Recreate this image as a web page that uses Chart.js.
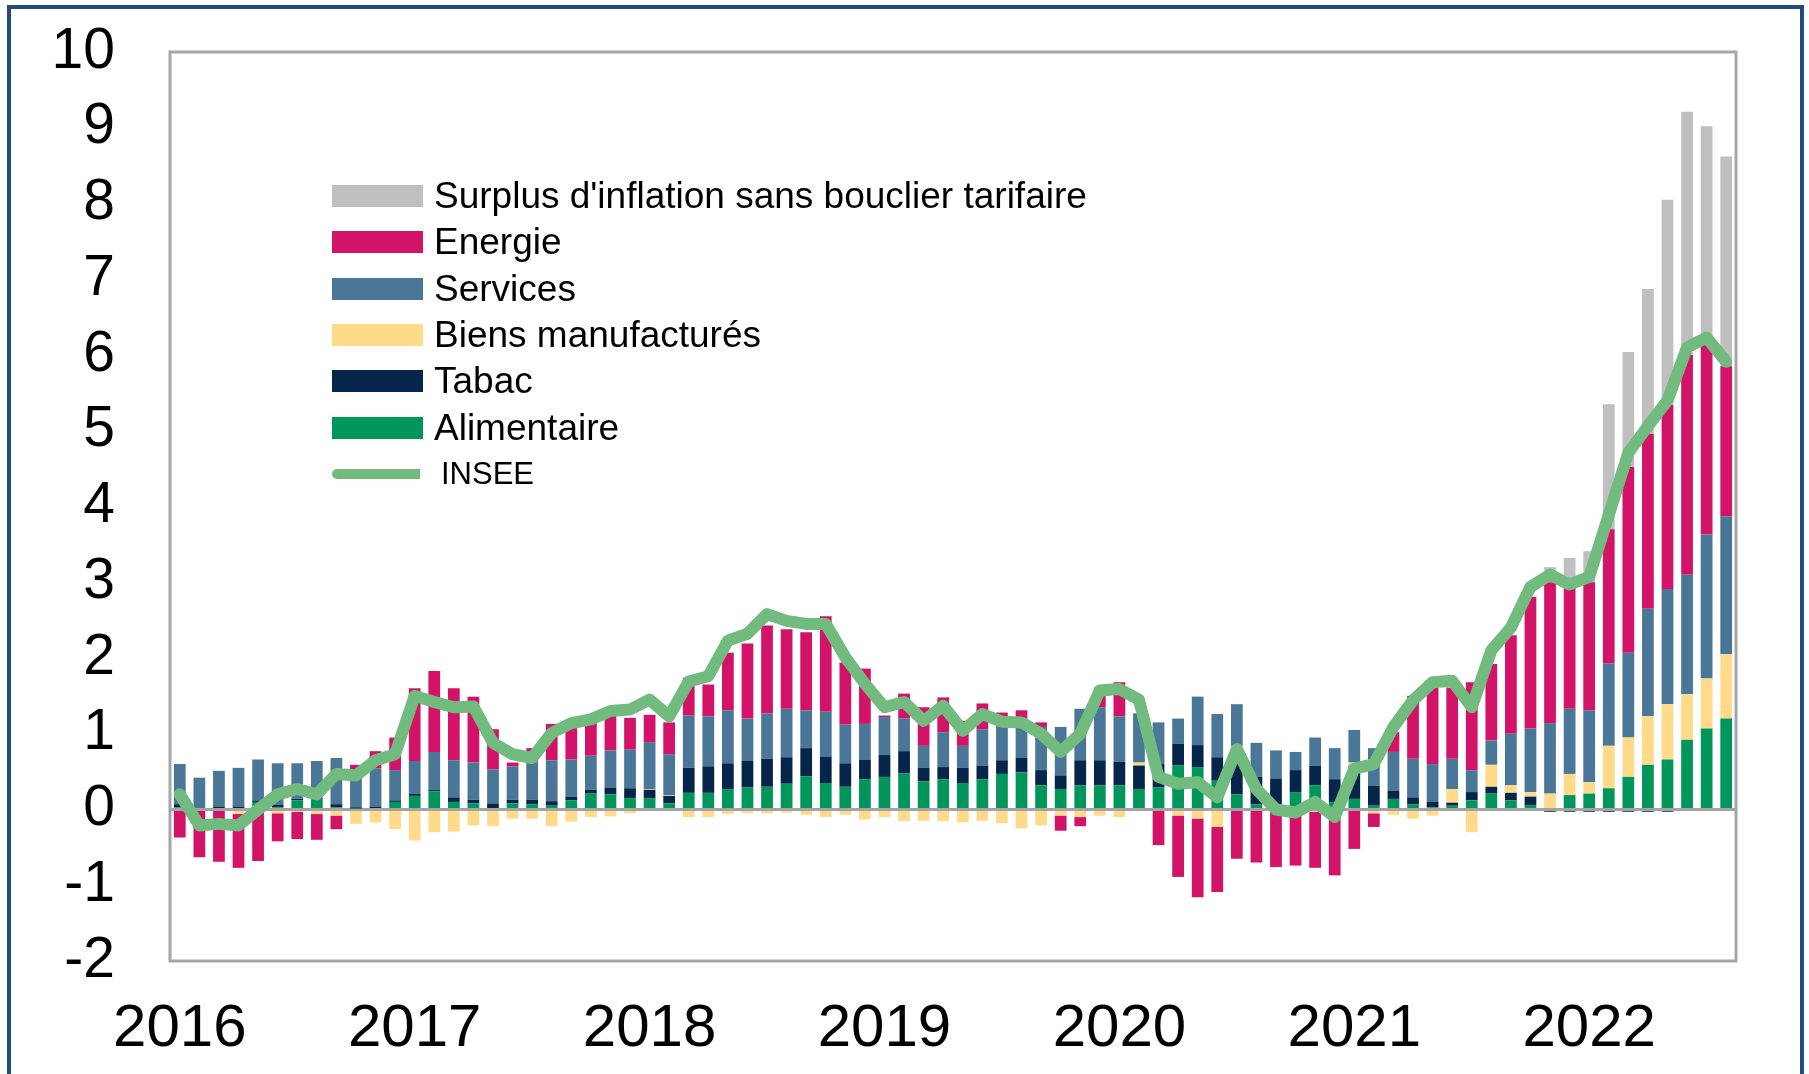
<!DOCTYPE html>
<html lang="fr">
<head>
<meta charset="utf-8">
<title>Contributions à l'inflation</title>
<script src="https://cdn.jsdelivr.net/npm/chart.js@4.4.0/dist/chart.umd.min.js"></script>
<style>
  html, body { margin: 0; padding: 0; background: #fff; }
  body { width: 1809px; height: 1074px; position: relative; overflow: hidden; font-family: 'Liberation Sans', Arial, sans-serif; }
  .cadre { position: absolute; left: 7px; top: 5px; width: 1789px; height: 1100px; border: 4px solid #234b7c; }
  #graph { position: absolute; left: 0; top: 0; }
  .legende { position: absolute; left: 332px; top: 173px; }
  .ligne { display: flex; align-items: center; height: 46.3px; }
  .carre { width: 91px; height: 22px; margin-right: 11px; }
  .trait { width: 88px; height: 10px; border-radius: 5px 0 0 5px; margin-right: 21px; background: #72bb7f; }
  .texte { font-size: 37px; color: #000; white-space: nowrap; }
  .petit { font-size: 31px; }
</style>
</head>
<body>
<div class="cadre"></div>
<canvas id="graph" width="1809" height="1074"></canvas>
<div class="legende" id="legende"></div>

<script>
// Axe des années (un label par mois, janvier 2016 -> août 2022)
const annees = ['2016', '2017', '2018', '2019', '2020', '2021', '2022'];
const nbMois = 80;

// Contributions mensuelles (points de %)
const alimentaire = [
  0.03, 0, 0, 0, 0.1, 0.03, 0.12, 0.13, 0.03, 0.01, 0.02, 0.1,
  0.18, 0.24, 0.1, 0.08, 0.02, 0.08, 0.07, 0.05, 0.12, 0.21, 0.2, 0.15,
  0.15, 0.08, 0.22, 0.22, 0.27, 0.29, 0.3, 0.34, 0.44, 0.35, 0.3, 0.4,
  0.43, 0.48, 0.37, 0.4, 0.35, 0.4, 0.47, 0.49, 0.32, 0.27, 0.32, 0.32,
  0.32, 0.27, 0.29, 0.58, 0.56, 0.38, 0.2, 0.07, 0.03, 0.23, 0.32, 0.1,
  0.14, 0.05, 0.14, 0.07, 0.03, 0.05, 0.12, 0.21, 0.12, 0.06, 0.02, 0.19,
  0.21, 0.28, 0.43, 0.59, 0.66, 0.92, 1.07, 1.2
];
const tabac = [
  0.04, 0.02, 0.04, 0.04, 0.02, 0.03, 0.02, 0.02, 0.04, 0.02, 0.02, 0.02,
  0.03, 0.02, 0.06, 0.05, 0.06, 0.05, 0.06, 0.06, 0.05, 0.05, 0.09, 0.13,
  0.11, 0.1, 0.33, 0.35, 0.34, 0.35, 0.37, 0.35, 0.37, 0.35, 0.31, 0.26,
  0.29, 0.29, 0.18, 0.16, 0.2, 0.18, 0.18, 0.19, 0.2, 0.18, 0.33, 0.33,
  0.31, 0.31, 0.31, 0.29, 0.29, 0.31, 0.55, 0.36, 0.38, 0.29, 0.26, 0.3,
  0.44, 0.26, 0.11, 0.09, 0.07, 0.04, 0.11, 0.09, 0.1, 0.11, -0.03, -0.03,
  -0.03, -0.03, -0.03, -0.03, -0.03, 0, 0, 0
];
const biensManufactures = [
  0, 0, 0, -0.06, 0, -0.05, -0.03, -0.06, -0.08, -0.19, -0.17, -0.26,
  -0.41, -0.3, -0.29, -0.21, -0.22, -0.12, -0.12, -0.22, -0.16, -0.1, -0.09, -0.05,
  0.01, 0.01, -0.1, -0.1, -0.06, -0.05, -0.05, -0.04, -0.07, -0.1, -0.07, -0.13,
  -0.1, -0.15, -0.15, -0.15, -0.17, -0.15, -0.18, -0.25, -0.21, -0.08, -0.1, -0.08,
  -0.1, 0.04, 0, -0.08, -0.12, -0.23, 0.09, 0, 0, 0, -0.03, -0.05,
  0.04, -0.05, -0.07, -0.12, -0.08, 0.18, -0.3, 0.29, 0.1, 0.06, 0.19, 0.28,
  0.15, 0.56, 0.52, 0.64, 0.73, 0.6, 0.66, 0.85
];
const services = [
  0.53, 0.4, 0.47, 0.51, 0.54, 0.55, 0.47, 0.49, 0.61, 0.5, 0.5, 0.4,
  0.43, 0.5, 0.49, 0.49, 0.45, 0.44, 0.49, 0.54, 0.49, 0.45, 0.49, 0.51,
  0.62, 0.54, 0.69, 0.66, 0.7, 0.56, 0.6, 0.64, 0.5, 0.59, 0.51, 0.47,
  0.5, 0.43, 0.29, 0.46, 0.29, 0.48, 0.45, 0.52, 0.57, 0.64, 0.68, 0.7,
  0.6, 0.65, 0.55, 0.33, 0.64, 0.57, 0.55, 0.45, 0.37, 0.24, 0.37, 0.41,
  0.43, 0.5, 0.51, 0.51, 0.5, 0.4, 0.29, 0.32, 0.68, 0.84, 0.93, 0.86,
  0.95, 1.09, 1.12, 1.42, 1.52, 1.58, 1.9, 1.82
];
const energie = [
  -0.37, -0.63, -0.69, -0.71, -0.68, -0.37, -0.36, -0.34, -0.18, 0.06, 0.23, 0.43,
  0.96, 1.07, 0.95, 0.87, 0.53, 0.05, 0.19, 0.48, 0.51, 0.49, 0.54, 0.42,
  0.36, 0.42, 0.5, 0.42, 0.76, 0.99, 1.16, 1.05, 1.03, 1.26, 0.82, 0.73,
  0.02, 0.33, 0.51, 0.46, 0.33, 0.34, 0.18, 0.11, 0.06, -0.2, -0.12, 0.26,
  0.45, 0, -0.47, -0.81, -1.04, -0.86, -0.65, -0.7, -0.76, -0.74, -0.74, -0.82,
  -0.52, -0.18, 0.26, 0.83, 1.1, 0.94, 1.16, 1.01, 1.3, 1.74, 1.86, 1.61,
  1.69, 1.77, 2.45, 2.31, 2.43, 2.9, 2.53, 1.98
];
const surplus = [
  0, 0, 0, 0, 0, 0, 0, 0, 0, 0, 0, 0,
  0, 0, 0, 0, 0, 0, 0, 0, 0, 0, 0, 0,
  0, 0, 0, 0, 0, 0, 0, 0, 0, 0, 0, 0,
  0, 0, 0, 0, 0, 0, 0, 0, 0, 0, 0, 0,
  0, 0, 0, 0, 0, 0, 0, 0, 0, 0, 0, 0,
  0, 0, 0, 0, 0, 0, 0, 0, 0, 0, 0.2, 0.38,
  0.41, 1.65, 1.52, 1.91, 2.71, 3.21, 2.86, 2.77
];
const insee = [
  0.2, -0.21, -0.19, -0.21, 0, 0.2, 0.27, 0.2, 0.47, 0.45, 0.65, 0.73,
  1.5, 1.42, 1.35, 1.36, 0.88, 0.73, 0.68, 1.01, 1.14, 1.19, 1.3, 1.32,
  1.45, 1.23, 1.69, 1.76, 2.23, 2.32, 2.58, 2.49, 2.45, 2.45, 2.01, 1.66,
  1.35, 1.42, 1.17, 1.37, 1.04, 1.26, 1.16, 1.15, 1.0, 0.76, 1.0, 1.57,
  1.59, 1.45, 0.43, 0.34, 0.36, 0.16, 0.8, 0.27, 0, -0.04, 0.1, -0.1,
  0.54, 0.6, 1.09, 1.44, 1.68, 1.7, 1.35, 2.1, 2.4, 2.94, 3.1, 2.97,
  3.07, 3.89, 4.71, 5.06, 5.4, 6.1, 6.23, 5.91
];

const couleurs = {
  surplus: '#bfbfbf',
  energie: '#d31367',
  services: '#4a7698',
  biens: '#ffda88',
  tabac: '#05264a',
  alimentaire: '#00955a',
  insee: '#72bb7f'
};

// Labels mensuels construits à partir des années
const mois = [];
annees.forEach(a => {
  for (let m = 1; m <= 12; m++) mois.push(a + '-' + String(m).padStart(2, '0'));
});
mois.length = nbMois;

Chart.defaults.font.family = "'Liberation Sans', Arial, sans-serif";

// Cadre gris autour de la zone de tracé
const cadrePlugin = {
  id: 'cadre',
  afterDraw(chart) {
    const { ctx, chartArea: a } = chart;
    ctx.save();
    ctx.strokeStyle = '#a6a6a6';
    ctx.lineWidth = 3;
    ctx.strokeRect(a.left, a.top, a.right - a.left, a.bottom - a.top);
    ctx.restore();
  }
};

const barre = (label, data, color) => ({
  label, data, backgroundColor: color, borderWidth: 0, order: 1,
  barPercentage: 0.6, categoryPercentage: 1
});

new Chart(document.getElementById('graph'), {
  type: 'bar',
  data: {
    labels: mois,
    datasets: [
      barre('Alimentaire', alimentaire, couleurs.alimentaire),
      barre('Tabac', tabac, couleurs.tabac),
      barre('Biens manufacturés', biensManufactures, couleurs.biens),
      barre('Services', services, couleurs.services),
      barre('Energie', energie, couleurs.energie),
      barre("Surplus d'inflation sans bouclier tarifaire", surplus, couleurs.surplus),
      {
        type: 'line',
        label: 'INSEE',
        data: insee,
        stack: 'insee',
        order: 0,
        borderColor: couleurs.insee,
        borderWidth: 12,
        borderJoinStyle: 'round',
        borderCapStyle: 'round',
        pointRadius: 0,
        tension: 0,
        fill: false
      }
    ]
  },
  options: {
    responsive: false,
    animation: false,
    devicePixelRatio: 1,
    layout: { padding: { top: 52, right: 73, left: 0, bottom: 0 } },
    plugins: {
      legend: { display: false },
      tooltip: { enabled: false }
    },
    scales: {
      x: {
        stacked: true,
        grid: { display: false, drawTicks: false },
        border: { display: false },
        ticks: {
          autoSkip: false,
          maxRotation: 0,
          minRotation: 0,
          padding: 32,
          color: '#000',
          font: { size: 60 },
          callback: (v, i) => (i % 12 === 0 ? annees[i / 12] : '')
        },
        afterFit: s => { s.height = 113; }
      },
      y: {
        stacked: true,
        min: -2,
        max: 10,
        ticks: { stepSize: 1, padding: 0, color: '#000', font: { size: 57 } },
        grid: {
          drawTicks: true,
          tickLength: 55,
          tickColor: 'rgba(0,0,0,0)',
          lineWidth: 3,
          color: c => (c.tick && c.tick.value === 0 ? '#a3a3a3' : 'rgba(0,0,0,0)')
        },
        border: { display: false },
        afterFit: s => { s.width = 170; }
      }
    }
  },
  plugins: [cadrePlugin]
});

// Légende HTML (ordre du graphique d'origine)
const legende = [
  ["Surplus d'inflation sans bouclier tarifaire", couleurs.surplus],
  ['Energie', couleurs.energie],
  ['Services', couleurs.services],
  ['Biens manufacturés', couleurs.biens],
  ['Tabac', couleurs.tabac],
  ['Alimentaire', couleurs.alimentaire]
];
const boite = document.getElementById('legende');
legende.forEach(([txt, col]) => {
  const l = document.createElement('div');
  l.className = 'ligne';
  l.innerHTML = '<div class="carre" style="background:' + col + '"></div><span class="texte"></span>';
  l.querySelector('.texte').textContent = txt;
  boite.appendChild(l);
});
const li = document.createElement('div');
li.className = 'ligne';
li.innerHTML = '<div class="trait"></div><span class="texte petit">INSEE</span>';
boite.appendChild(li);
</script>
</body>
</html>
